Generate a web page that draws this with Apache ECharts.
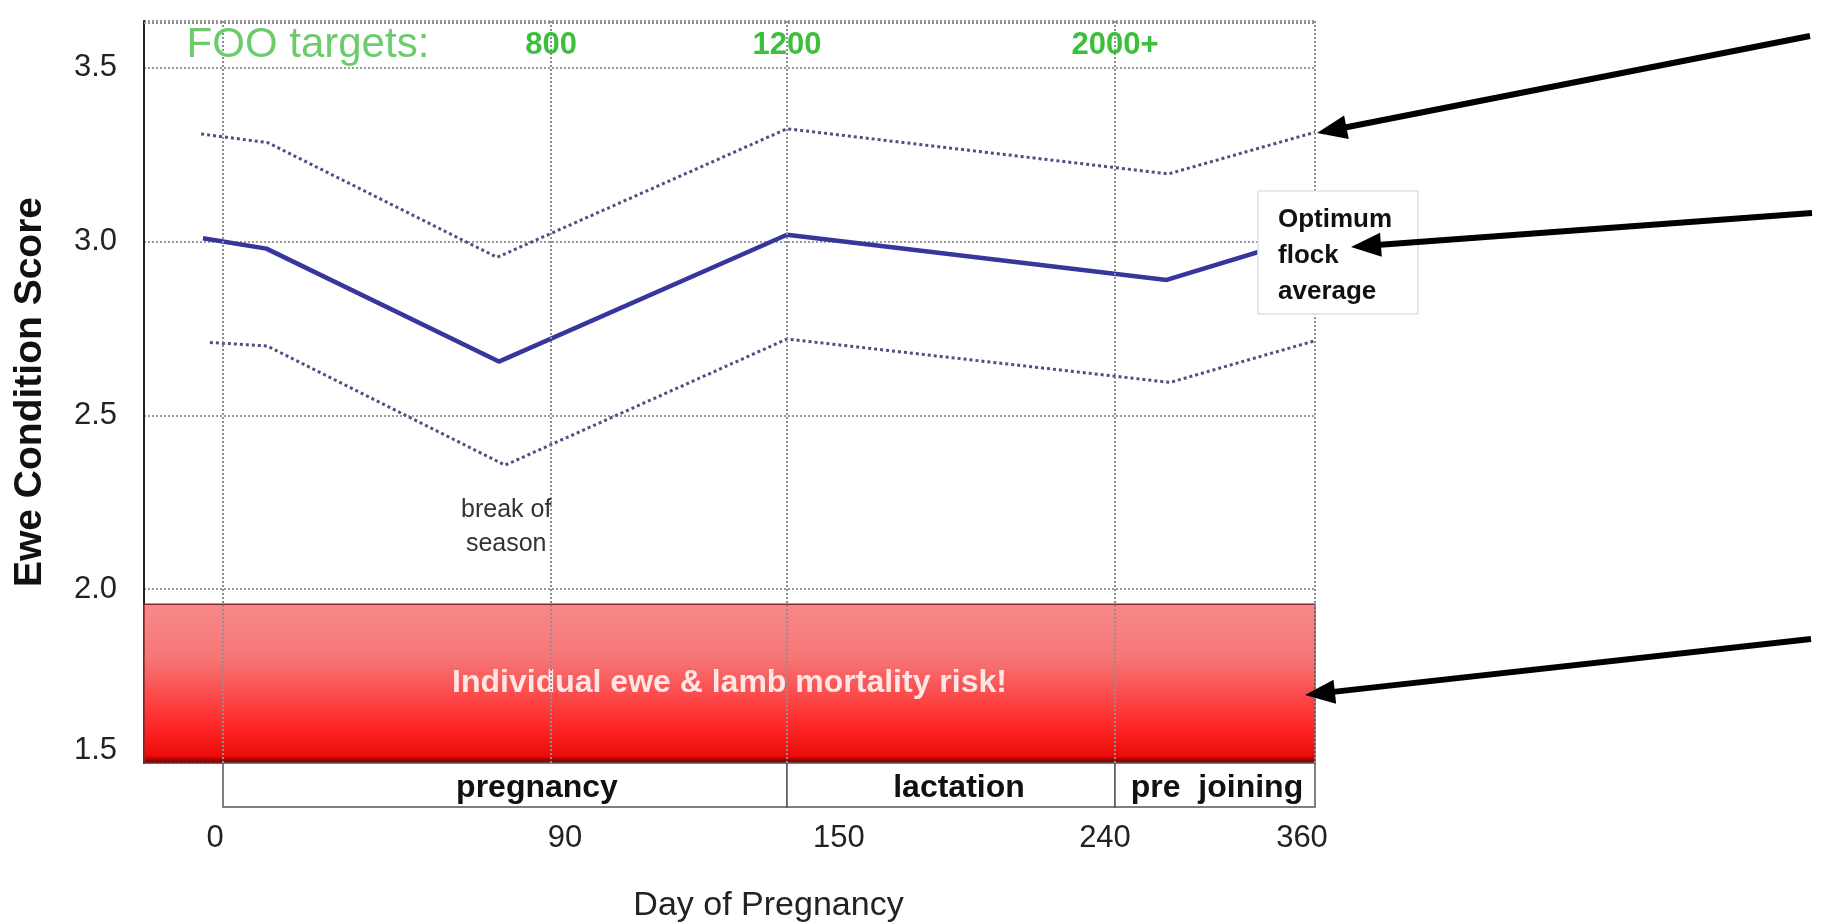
<!DOCTYPE html>
<html>
<head>
<meta charset="utf-8">
<script src="https://cdn.jsdelivr.net/npm/echarts@6/dist/echarts.min.js"></script>
<style>
html, body { margin: 0; padding: 0; background: #ffffff; }
#chart { width: 1838px; height: 924px; }
</style>
</head>
<body>
<div id="chart"></div>
<script>
// ---------------- DATA ----------------
const meanDays   = [-5.5, 11.9, 75.7, 150, 271, 360];
const meanScore  = [3.01, 2.98, 2.655, 3.02, 2.89, 3.02];
const upperDays  = [-6, 12.3, 75.2, 150, 272, 360];
const upperScore = [3.31, 3.285, 2.955, 3.325, 3.195, 3.315];
const lowerDays  = [-3.6, 12.1, 77.4, 150, 273, 360];
const lowerScore = [2.71, 2.70, 2.357, 2.72, 2.595, 2.715];

const tickDays   = [0, 90, 150, 240, 360];          // x tick labels
const gridDays   = [0, 90, 150, 240, 360];          // vertical guide lines
const scoreTicks = [1.5, 2.0, 2.5, 3.0, 3.5];       // y tick labels
const phaseNames = ['pregnancy', 'lactation', 'pre  joining'];
const phaseStart = [0, 150, 240];
const phaseEnd   = [150, 240, 360];
const fooValues  = ['800', '1200', '2000+'];
const fooDays    = [90, 150, 240];
const riskTop    = 1.957;
const dayMin     = -21.68;
const dayMax     = 360;
const scoreMin   = 1.5;
const scoreMax   = 3.635;

// ---------------- STYLE ----------------
const FONT = '"Liberation Sans", Arial, Helvetica, sans-serif';
const tickShift = { 0: -8, 90: 14, 150: 52, 240: -10, 360: -13 };

function pair(xs, ys) { return xs.map((x, i) => [x, ys[i]]); }

function shiftRich() {
  const rich = {};
  tickDays.forEach(d => {
    const s = tickShift[d] || 0;
    rich['t' + d] = {
      fontSize: 31, color: '#222', fontFamily: FONT,
      padding: s >= 0 ? [0, 0, 0, 2 * s] : [0, -2 * s, 0, 0]
    };
  });
  return rich;
}

// the reference's day axis is drawn unevenly: the 90-150 and 240-360 stretches
// have their own widths, reproduced with axis breaks (gap = share of axis length)
function dayAxis(gridIndex, withLabels) {
  return {
    type: 'value',
    gridIndex: gridIndex,
    min: dayMin,
    max: dayMax,
    breaks: [
      { start: 90, end: 150, gap: '20.15%' },
      { start: 240, end: 360, gap: '17.08%' }
    ],
    breakArea: { show: false, itemStyle: { opacity: 0 }, zigzagAmplitude: 0 },
    axisLine: { show: false },
    axisTick: { show: false },
    splitLine: { show: false },
    axisLabel: withLabels ? {
      show: true,
      customValues: tickDays,
      margin: 16,
      formatter: v => '{t' + v + '|' + v + '}',
      rich: shiftRich()
    } : { show: false },
    name: withLabels ? 'Day of Pregnancy' : '',
    nameLocation: 'middle',
    nameGap: 82,
    nameTextStyle: { fontSize: 34, color: '#222', fontFamily: FONT, padding: [0, 0, 0, 78] }
  };
}

const chart = echarts.init(document.getElementById('chart'), null, { renderer: 'canvas' });

// arrows (annotation graphics)
const arrows = [
  { from: [1810, 36],  to: [1317, 133] },
  { from: [1812, 213], to: [1351, 247] },
  { from: [1811, 639], to: [1305, 695] }
];
const arrowGraphics = [];
arrows.forEach(a => {
  const dx = a.to[0] - a.from[0], dy = a.to[1] - a.from[1];
  const len = Math.sqrt(dx * dx + dy * dy);
  const ux = dx / len, uy = dy / len;
  const headL = 30, headW = 12;
  const bx = a.to[0] - ux * headL, by = a.to[1] - uy * headL;
  arrowGraphics.push({
    type: 'line', z: 100,
    shape: { x1: a.from[0], y1: a.from[1], x2: bx + ux * 4, y2: by + uy * 4 },
    style: { stroke: '#000', lineWidth: 6 }
  });
  arrowGraphics.push({
    type: 'polygon', z: 100,
    shape: { points: [[a.to[0], a.to[1]], [bx - uy * headW, by + ux * headW], [bx + uy * headW, by - ux * headW]] },
    style: { fill: '#000' }
  });
});

const option = {
  animation: false,
  backgroundColor: '#ffffff',
  textStyle: { fontFamily: FONT },
  grid: [
    { left: 144, top: 21, width: 1171, height: 742, containLabel: false },
    { left: 144, top: 763, width: 1171, height: 46, containLabel: false }
  ],
  xAxis: [dayAxis(0, false), dayAxis(1, true)],
  yAxis: [
    {
      type: 'value', gridIndex: 0, min: scoreMin, max: scoreMax, interval: 0.5,
      axisLine: { show: true, onZero: false, lineStyle: { color: '#222', width: 2 } },
      axisTick: { show: false },
      splitLine: { show: true, lineStyle: { color: '#9a9a9a', width: 2, type: 'dotted' } },
      axisLabel: {
        customValues: scoreTicks,
        margin: 27,
        formatter: v => (v === 1.5 ? '{up|1.5}' : '{n|' + v.toFixed(1) + '}'),
        rich: {
          n: { fontSize: 31, color: '#222', fontFamily: FONT },
          up: { fontSize: 31, color: '#222', fontFamily: FONT, padding: [0, 0, 26, 0] }
        }
      },
      name: 'Ewe Condition Score',
      nameLocation: 'middle',
      nameGap: 94,
      nameTextStyle: { fontSize: 39, fontWeight: 'bold', color: '#111', fontFamily: FONT }
    },
    { type: 'value', gridIndex: 1, min: 0, max: 1, show: false }
  ],
  series: [
    {
      // helper series: risk band, guide lines, text annotations
      type: 'line', xAxisIndex: 0, yAxisIndex: 0, data: [], silent: true, z: 1,
      markArea: {
        silent: true,
        itemStyle: {
          color: new echarts.graphic.LinearGradient(0, 0, 0, 1, [
            { offset: 0, color: '#f78a8a' },
            { offset: 0.35, color: '#f67474' },
            { offset: 0.75, color: '#ff2a2a' },
            { offset: 0.95, color: '#ee0a0a' },
            { offset: 1, color: '#5a0000' }
          ]),
          borderColor: '#8a2a2a', borderWidth: 1.5
        },
        label: {
          show: true, position: 'inside', fontSize: 32, fontWeight: 'bold',
          color: '#fde6e6', fontFamily: FONT
        },
        data: [[
          { name: 'Individual ewe & lamb mortality risk!', yAxis: scoreMin },
          { yAxis: riskTop }
        ]]
      },
      markLine: {
        silent: true, symbol: ['none', 'none'], animation: false,
        label: { show: false },
        lineStyle: { color: '#8f8f8f', width: 2, type: 'dotted' },
        data: gridDays.map(d => ({ xAxis: d })).concat([{ yAxis: scoreMax }])
      },
      markPoint: {
        silent: true, symbol: 'rect', symbolSize: 1,
        itemStyle: { color: 'rgba(0,0,0,0)' },
        data: fooValues.map((t, i) => ({
          coord: [fooDays[i], 3.565], value: t,
          label: { show: true, formatter: t, fontSize: 31, fontWeight: 'bold', color: '#3cc03c', fontFamily: FONT }
        })).concat([
          {
            coord: [23.3, 3.565], value: 'FOO targets:',
            label: { show: true, formatter: 'FOO targets:', fontSize: 42, color: '#6ccc6c', fontFamily: FONT }
          },
          {
            coord: [77.7, 2.18], value: 'break of season',
            label: { show: true, formatter: 'break of\nseason', fontSize: 25, lineHeight: 34, color: '#333', fontFamily: FONT }
          }
        ])
      }
    },
    {
      name: 'Upper', type: 'line', xAxisIndex: 0, yAxisIndex: 0, z: 3,
      data: pair(upperDays, upperScore), symbol: 'none',
      lineStyle: { color: '#4f5080', width: 3, type: 'dotted' }
    },
    {
      name: 'Lower', type: 'line', xAxisIndex: 0, yAxisIndex: 0, z: 3,
      data: pair(lowerDays, lowerScore), symbol: 'none',
      lineStyle: { color: '#4f5080', width: 3, type: 'dotted' }
    },
    {
      name: 'Optimum flock average', type: 'line', xAxisIndex: 0, yAxisIndex: 0, z: 4,
      data: pair(meanDays, meanScore), symbol: 'none',
      lineStyle: { color: '#36369c', width: 4.5 }
    },
    {
      // phase band below the plot
      type: 'line', xAxisIndex: 1, yAxisIndex: 1, data: [], silent: true,
      markArea: {
        silent: true,
        itemStyle: { color: '#ffffff', borderColor: '#555', borderWidth: 1.5 },
        label: { show: true, position: 'inside', fontSize: 32, fontWeight: 'bold', color: '#111', fontFamily: FONT },
        data: phaseNames.map((n, i) => [
          { name: n, xAxis: phaseStart[i], yAxis: 0, label: { offset: [i === 0 ? 32 : (i === 1 ? 8 : 2), 3] } },
          { xAxis: phaseEnd[i], yAxis: 1 }
        ])
      }
    }
  ],
  graphic: [
    {
      type: 'rect', z: 90,
      shape: { x: 1258, y: 191, width: 160, height: 123 },
      style: { fill: '#ffffff', stroke: '#e2e2e2', lineWidth: 1.5 }
    },
    {
      type: 'text', z: 91, x: 1278, y: 202,
      style: {
        text: 'Optimum\nflock\naverage', fontSize: 26, fontWeight: 'bold',
        lineHeight: 36, fill: '#111', fontFamily: FONT
      }
    }
  ].concat(arrowGraphics)
};

chart.setOption(option);
</script>
</body>
</html>
